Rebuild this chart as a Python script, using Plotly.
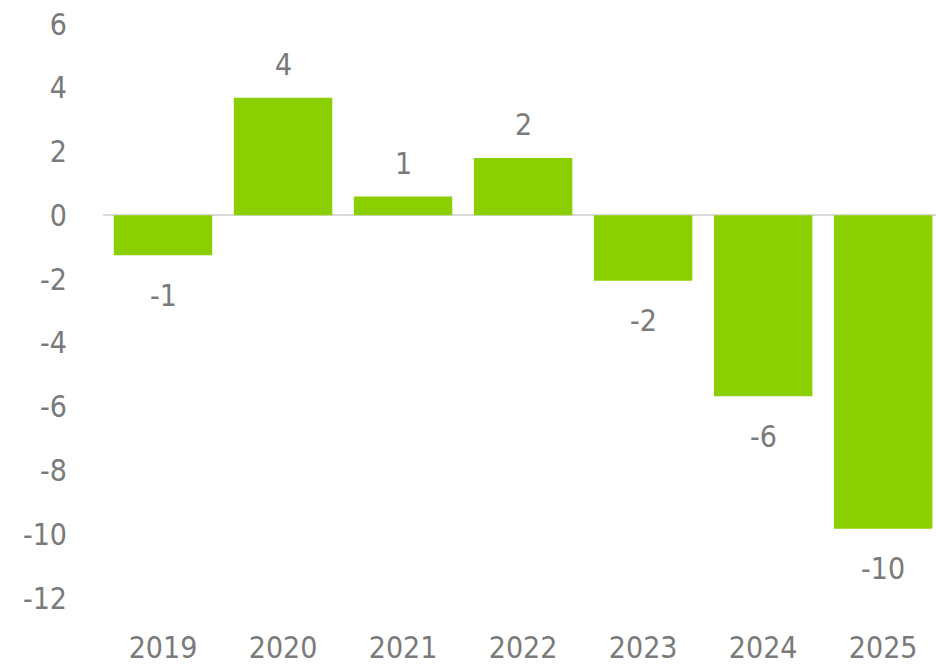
import plotly.graph_objects as go

years = ["2019", "2020", "2021", "2022", "2023", "2024", "2025"]
values = [-1.25, 3.69, 0.59, 1.80, -2.05, -5.67, -9.83]
y_ticks = [-12, -10, -8, -6, -4, -2, 0, 2, 4, 6]

BAR_GREEN = "#8ccf00"
TEXT_GREY = "#7a7a7a"
FONT = "DejaVu Sans Condensed, Liberation Sans Narrow, sans-serif"
FONT_SIZE = 30

fig = go.Figure(
    go.Bar(
        x=years,
        y=values,
        marker=dict(color=BAR_GREEN, line=dict(width=0)),
        width=0.82,
        hoverinfo="skip",
    )
)

# value labels, rounded to whole numbers, sitting beyond each bar end
for i, v in enumerate(values):
    fig.add_annotation(
        x=i,
        y=v,
        xref="x",
        yref="y",
        text=f"{round(v):d}",
        showarrow=False,
        yanchor="middle",
        yshift=33 if v >= 0 else -40,
        font=dict(family=FONT, size=FONT_SIZE, color=TEXT_GREY),
    )

fig.update_layout(
    width=936,
    height=665,
    margin=dict(l=103, r=0, t=24, b=64),
    paper_bgcolor="white",
    plot_bgcolor="white",
    showlegend=False,
    font=dict(family=FONT, size=FONT_SIZE, color=TEXT_GREY),
    xaxis=dict(
        type="category",
        range=[-0.5, 6.44],
        showgrid=False,
        showline=False,
        zeroline=False,
        ticks="",
        ticklabelstandoff=29,
        tickfont=dict(family=FONT, size=FONT_SIZE, color=TEXT_GREY),
    ),
    yaxis=dict(
        range=[-12, 6],
        tickvals=y_ticks,
        ticktext=[str(t) for t in y_ticks],
        showgrid=False,
        showline=False,
        zeroline=True,
        zerolinecolor="#d9d9d9",
        zerolinewidth=2,
        ticks="",
        ticklabelstandoff=35,
        tickfont=dict(family=FONT, size=FONT_SIZE, color=TEXT_GREY),
    ),
)

fig.write_html("out.html")
